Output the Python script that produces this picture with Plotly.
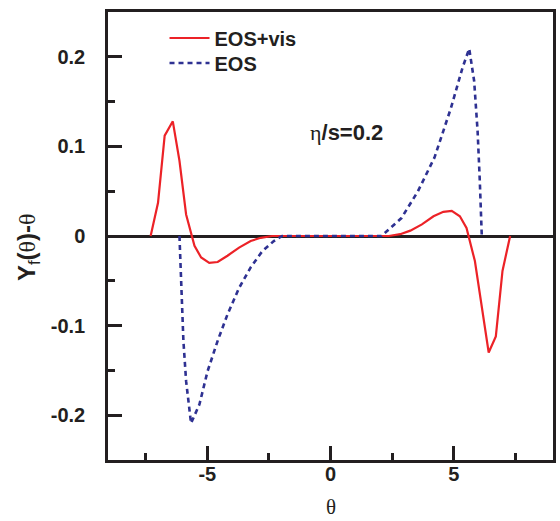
import plotly.graph_objects as go

# EOS+vis (red, solid)
vis_x = [-7.30, -7.00, -6.73, -6.40, -6.13, -5.86, -5.52, -5.25, -4.92, -4.58,
         -4.18, -3.71, -3.24, -2.83, -2.37, 2.37, 2.83, 3.24, 3.71, 4.18,
         4.58, 4.92, 5.25, 5.52, 5.86, 6.13, 6.42, 6.71, 6.98, 7.29]
vis_y = [0.0, 0.037, 0.112, 0.128, 0.084, 0.024, -0.011, -0.024, -0.030, -0.029,
         -0.022, -0.013, -0.0056, -0.002, 0.0, 0.0, 0.002, 0.006, 0.013, 0.022,
         0.027, 0.028, 0.022, 0.009, -0.028, -0.078, -0.130, -0.112, -0.039, 0.0]

# EOS (blue, dashed)
eos_x = [-6.13, -6.06, -5.97, -5.86, -5.66, -5.32, -4.99, -4.58, -4.18, -3.71,
         -3.24, -2.77, -2.30, -1.96, 2.07, 2.88, 3.55, 4.22, 4.89, 5.36,
         5.63, 5.83, 5.97, 6.06, 6.14]
eos_y = [0.0, -0.05, -0.117, -0.162, -0.209, -0.188, -0.151, -0.117, -0.0875, -0.058,
         -0.035, -0.017, -0.0056, 0.0, 0.0, 0.020, 0.050, 0.0875, 0.143, 0.188,
         0.209, 0.173, 0.117, 0.061, 0.0]

x_tickvals = [-5, 0, 5]
x_ticktext = ["-5", "0", "5"]
y_tickvals = [-0.2, -0.1, 0, 0.1, 0.2]
y_ticktext = ["-0.2", "-0.1", "0", "0.1", "0.2"]

RED = "#ec2227"
BLUE = "#2e3192"
INK = "#231f20"
FONT = "Liberation Sans"

fig = go.Figure()
fig.add_trace(go.Scatter(x=vis_x, y=vis_y, mode="lines", name="<b>EOS+vis</b>",
                         legend="legend",
                         line=dict(color=RED, width=2.2)))
fig.add_trace(go.Scatter(x=eos_x, y=eos_y, mode="lines", name="<b>EOS</b>",
                         legend="legend2",
                         line=dict(color=BLUE, width=2.6, dash="5px,4px")))

axis_common = dict(
    showline=True, linecolor=INK, linewidth=2.5, mirror=True,
    ticks="inside", ticklen=14, tickwidth=2.5, tickcolor=INK,
    showgrid=False,
    tickfont=dict(family=FONT, size=20, color=INK, weight="bold"),
)

fig.update_xaxes(range=[-9.03, 9.03], tickvals=x_tickvals, ticktext=x_ticktext,
                 zeroline=False, ticklabelstandoff=-6,
                 minor=dict(dtick=2.5, tick0=0, ticks="inside", ticklen=7,
                            tickwidth=2.5, tickcolor=INK, showgrid=False),
                 **axis_common)
fig.update_yaxes(range=[-0.25, 0.25], tickvals=y_tickvals, ticktext=y_ticktext,
                 zeroline=True, zerolinecolor=INK, zerolinewidth=2.5,
                 ticklabelstandoff=16,
                 minor=dict(dtick=0.05, tick0=0, ticks="inside", ticklen=7,
                            tickwidth=2.5, tickcolor=INK, showgrid=False),
                 **axis_common)

legend_common = dict(xanchor="left", yanchor="middle",
                     bgcolor="rgba(0,0,0,0)", borderwidth=0,
                     font=dict(family=FONT, size=20, color=INK),
                     itemwidth=40)

fig.update_layout(
    width=560, height=521,
    margin=dict(l=108, r=4, t=12, b=61),
    paper_bgcolor="white", plot_bgcolor="white",
    showlegend=True,
    legend=dict(x=0.127, y=0.942, **legend_common),
    legend2=dict(x=0.127, y=0.886, **legend_common),
    annotations=[
        dict(x=0.65, y=0.115, xref="x", yref="y", showarrow=False,
             text="<span style='font-family:Liberation Serif;font-weight:normal'>η</span><b>/s=0.2</b>",
             font=dict(family=FONT, size=22, color=INK)),
        dict(x=0.5, y=-0.105, xref="paper", yref="paper", showarrow=False,
             xanchor="center", yanchor="middle", borderpad=0,
             text="θ", font=dict(family="Liberation Serif", size=21, color=INK)),
        dict(x=-0.18, y=0.475, xref="paper", yref="paper", showarrow=False,
             xanchor="center", yanchor="middle", textangle=-90,
             text="<b>Y</b><sub>f</sub><b>(</b><span style='font-family:Liberation Serif'>θ</span><b>)-</b><span style='font-family:Liberation Serif'>θ</span>",
             font=dict(family=FONT, size=24, color=INK)),
    ],
)

fig.write_html("out.html")
